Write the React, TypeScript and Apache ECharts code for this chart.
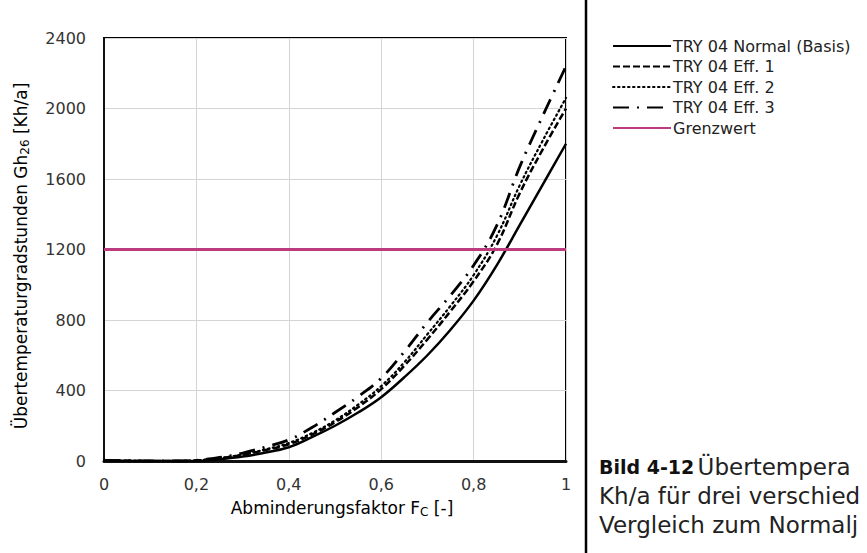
import React, { useEffect, useRef } from "react";
import * as echarts from "echarts";

const fcValues = [0, 0.05, 0.1, 0.15, 0.2, 0.25, 0.3, 0.35, 0.4, 0.45, 0.5, 0.55, 0.6, 0.65, 0.7, 0.75, 0.8, 0.85, 0.9, 0.95, 1.0];
const normalBasis = [3, 1, 0, 0, 0, 10, 25, 48, 78, 135, 200, 275, 362, 475, 600, 745, 910, 1110, 1340, 1570, 1800];
const eff1 = [3, 1, 0, 0, 3, 15, 35, 62, 95, 150, 220, 305, 408, 540, 690, 850, 1020, 1225, 1520, 1770, 2000];
const eff2 = [3, 1, 0, 0, 3, 16, 37, 66, 102, 158, 230, 320, 425, 560, 719, 880, 1055, 1275, 1565, 1820, 2060];
const eff3 = [3, 1, 0, 0, 4, 20, 45, 80, 120, 190, 275, 365, 470, 620, 787, 940, 1110, 1335, 1670, 1960, 2240];
const grenzwert = 1200;
const seriesNames = ["TRY 04 Normal (Basis)", "TRY 04 Eff. 1", "TRY 04 Eff. 2", "TRY 04 Eff. 3", "Grenzwert"];
const xTicks = { min: 0, max: 1, interval: 0.2 };
const yTicks = { min: 0, max: 2400, interval: 400 };

const FONT = "'DejaVu Sans', sans-serif";

function pairs(ys: number[]) {
  return fcValues.map((x, i) => [x, ys[i]]);
}

export default function App() {
  const ref = useRef<HTMLDivElement>(null);
  useEffect(() => {
    if (!ref.current) return;
    const chart = echarts.init(ref.current, undefined, { renderer: "svg" });
    const lineBase = { type: "line", showSymbol: false, symbol: "none", smooth: 0.4 } as any;
    chart.setOption({
      animation: false,
      textStyle: { fontFamily: FONT },
      grid: { left: 104, right: 301, top: 38, bottom: 92, show: true, borderColor: "#000", borderWidth: 2, backgroundColor: "transparent" },
      legend: {
        orient: "vertical",
        left: 607,
        top: 33,
        itemWidth: 58,
        itemHeight: 14,
        itemGap: 4.5,
        data: seriesNames,
        itemStyle: { opacity: 0 },
        textStyle: { fontSize: 16, color: "#222", fontFamily: FONT, padding: [0, 0, 0, -3] },
      },
      xAxis: {
        type: "value",
        min: xTicks.min,
        max: xTicks.max,
        interval: xTicks.interval,
        axisLine: { show: true, lineStyle: { color: "#111", width: 3 } },
        axisTick: { show: false },
        splitLine: { show: true, lineStyle: { color: "#d4d4d4", width: 1 } },
        axisLabel: { fontSize: 16, color: "#333", margin: 15, fontFamily: FONT, formatter: (v: number) => String(v).replace(".", ",") },
      },
      yAxis: {
        type: "value",
        min: yTicks.min,
        max: yTicks.max,
        interval: yTicks.interval,
        axisLine: { show: true, lineStyle: { color: "#111", width: 2 } },
        axisTick: { show: false },
        splitLine: { show: true, lineStyle: { color: "#d4d4d4", width: 1 } },
        axisLabel: { fontSize: 16, color: "#333", margin: 18, fontFamily: FONT, formatter: (v: number) => String(v) },
      },
      graphic: [
        {
          type: "line",
          shape: { x1: 586, y1: 0, x2: 586, y2: 553 },
          style: { stroke: "#000", lineWidth: 2.5 },
          silent: true,
        },
        {
          type: "text",
          x: 21,
          y: 256,
          rotation: Math.PI / 2,
          style: {
            text: "{n|Übertemperaturgradstunden Gh}{s|26}{n| [Kh/a]}",
            align: "center",
            verticalAlign: "middle",
            rich: {
              n: { fontSize: 17, fill: "#000", fontFamily: FONT },
              s: { fontSize: 12, fill: "#000", fontFamily: FONT, padding: [8, 0, 0, 0] },
            },
          },
        },
        {
          type: "text",
          x: 342,
          y: 508,
          style: {
            text: "{n|Abminderungsfaktor F}{s|C}{n| [-]}",
            align: "center",
            verticalAlign: "middle",
            rich: {
              n: { fontSize: 17, fill: "#000", fontFamily: FONT },
              s: { fontSize: 12, fill: "#000", fontFamily: FONT, padding: [8, 0, 0, 0] },
            },
          },
        },
        {
          type: "text",
          x: 599,
          y: 467,
          style: {
            text: "{b|Bild 4-12} {n|Übertempera}",
            verticalAlign: "middle",
            rich: {
              b: { fontSize: 19, fontWeight: "bold", fill: "#111", fontFamily: FONT },
              n: { fontSize: 23, fill: "#222", fontFamily: FONT },
            },
          },
        },
        {
          type: "text",
          x: 599,
          y: 496,
          style: { text: "Kh/a für drei verschied", fontSize: 23, fill: "#222", fontFamily: FONT, verticalAlign: "middle" },
        },
        {
          type: "text",
          x: 599,
          y: 525,
          style: { text: "Vergleich zum Normalj", fontSize: 23, fill: "#222", fontFamily: FONT, verticalAlign: "middle" },
        },
      ],
      series: [
        { ...lineBase, name: seriesNames[0], data: pairs(normalBasis), color: "#000", lineStyle: { color: "#000", width: 2.5, type: "solid" } },
        { ...lineBase, name: seriesNames[1], data: pairs(eff1), color: "#000", lineStyle: { color: "#000", width: 2.5, type: [7, 3] } },
        { ...lineBase, name: seriesNames[2], data: pairs(eff2), color: "#000", lineStyle: { color: "#000", width: 2.2, type: [1.5, 3.5], cap: "round" } },
        { ...lineBase, name: seriesNames[3], data: pairs(eff3), color: "#000", lineStyle: { color: "#000", width: 2.8, type: [16, 8, 2, 8] } },
        {
          type: "line",
          name: seriesNames[4],
          symbol: "none",
          data: [[xTicks.min, grenzwert], [xTicks.max, grenzwert]],
          color: "#BB3B7C",
          lineStyle: { color: "#BB3B7C", width: 3 },
        },
      ],
    });
    return () => chart.dispose();
  }, []);
  return <div ref={ref} style={{ width: 867, height: 553, position: "absolute", left: 0, top: 0, background: "#fff" }} />;
}
